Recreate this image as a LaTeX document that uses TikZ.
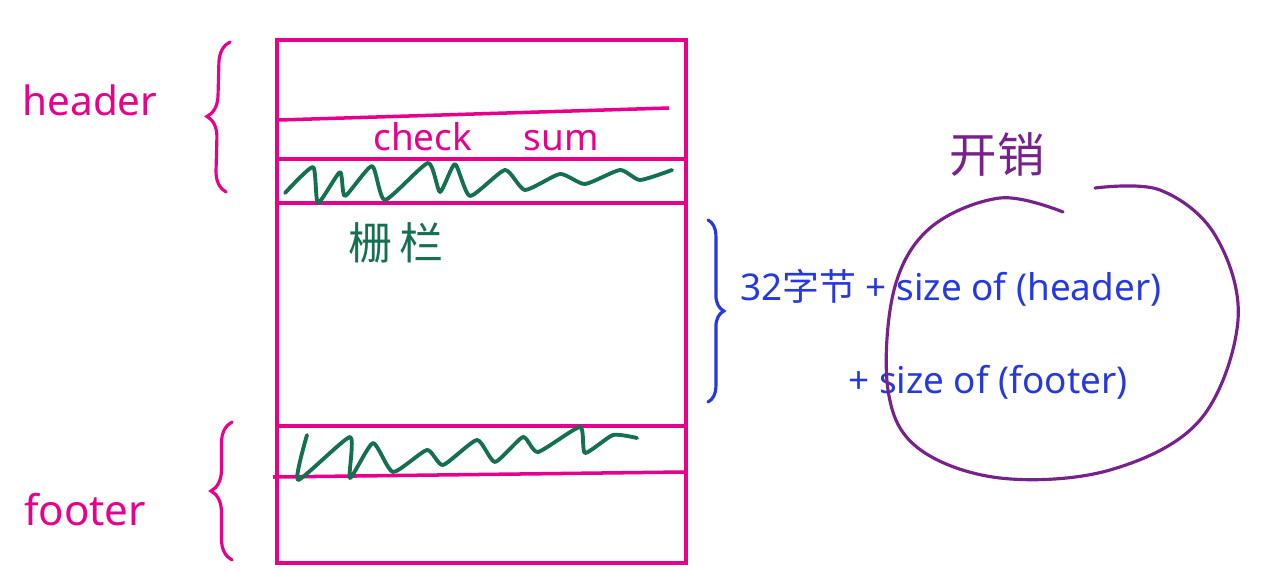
\documentclass[tikz,border=0pt]{standalone}
\usepackage{fontspec}
\setmainfont{Noto Sans}
\newfontfamily\cjk{Noto Sans CJK SC}
\usetikzlibrary{positioning, decorations.pathreplacing, calc}
\definecolor{inkpink}{rgb}{0.91, 0.0, 0.55}
\definecolor{inkgreen}{rgb}{0.08, 0.44, 0.31}
\definecolor{inkblue}{rgb}{0.15, 0.22, 0.88}
\definecolor{inkpurple}{rgb}{0.47, 0.13, 0.55}

\begin{document}
\begin{tikzpicture}[x=0.02cm, y=-0.02cm,
		frame/.style={draw=inkpink, line width=2pt},
		squiggle/.style={draw=inkgreen, line width=2.2pt, line cap=round, line join=round},
		curly/.style={line width=1.8pt, line cap=round, decorate, decoration={brace, amplitude=12pt, raise=0pt}},
		pinklbl/.style={text=inkpink, inner sep=0pt, font=\fontsize{23}{26}\selectfont},
		bluelbl/.style={text=inkblue, inner sep=0pt, font=\fontsize{21}{24}\selectfont, anchor=west}
	]
	\useasboundingbox (0,0) rectangle (1280,571);
	% the block
	\draw[frame] (277,40) rectangle (686,563);
	\draw[frame] (279,120) -- (669,108);
	\draw[frame] (277,159) -- (686,159);
	\draw[frame] (277,203) -- (686,203);
	\draw[frame] (277,426) -- (686,426);
	\draw[frame] (273,477) -- (684,472);
	% fences
	\draw[squiggle] plot[smooth, tension=0.35] coordinates {(285,193) (313,167) (318,203) (340,172) (345,196) (372,166) (385,200) (428,163) (440,192) (455,164) (470,196) (505,170) (525,190) (560,174) (585,184) (620,170) (640,180) (672,170)};
	\draw[squiggle] plot[smooth, tension=0.35] coordinates {(307,435) (298,480) (350,437) (350,478) (373,443) (393,472) (427,450) (443,465) (477,440) (495,462) (523,437) (538,452) (580,427) (585,453) (613,435) (637,438)};
	% labels
	\node[pinklbl] (hdr) at (90,100) {header};
	\node[pinklbl, font=\fontsize{24}{27}\selectfont] (ftr) at (85,510) {footer};
	\node[pinklbl, font=\fontsize{21}{24}\selectfont] (cks) at (486,137) {check\hspace{1.4em}sum};
	\node[text=inkgreen, inner sep=0pt, font=\cjk\fontsize{25}{28}\selectfont] (fence) at (396,243) {栅\,栏};
	% braces
	\coordinate (hb1) at (226,192);
	\coordinate (hb2) at (230,42);
	\coordinate (fb1) at (232,560);
	\coordinate (fb2) at (232,422);
	\coordinate (rb1) at (708,220);
	\coordinate (rb2) at (708,402);
	\draw[curly, draw=inkpink] (hb1) -- (hb2);
	\draw[curly, draw=inkpink] (fb1) -- (fb2);
	\draw[curly, draw=inkblue, decoration={brace, amplitude=9pt}] (rb1) -- (rb2);
	% overhead
	\node[bluelbl] (sum1) at (740,288) {32{\cjk 字节} + size of (header)};
	\node[bluelbl] (sum2) at (848,382) {+ size of (footer)};
	\draw[inkpurple, line width=1.8pt, line cap=round] plot[smooth, tension=0.6] coordinates {(1063,212) (1000,198) (930,228) (894,290) (888,390) (918,448) (1000,478) (1110,470) (1200,420) (1238,320) (1215,235) (1160,190) (1095,188)};
	\node[text=inkpurple, inner sep=0pt, font=\cjk\fontsize{27}{30}\selectfont] (cost) at (997,155) {开销};
\end{tikzpicture}
\end{document}
